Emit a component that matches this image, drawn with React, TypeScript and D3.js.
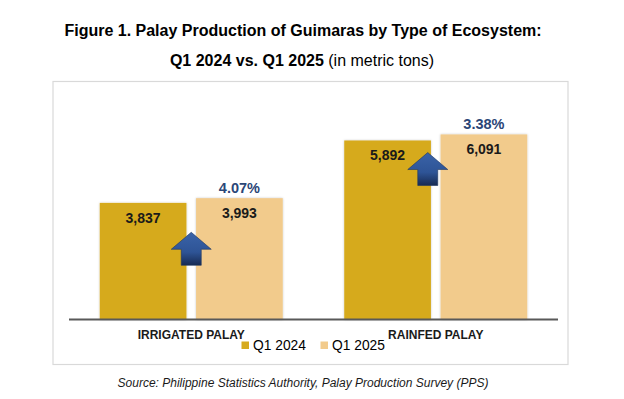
import React from "react";
import * as d3 from "d3";

const categories = ["IRRIGATED PALAY", "RAINFED PALAY"];
const seriesNames = ["Q1 2024", "Q1 2025"];
const q12024 = [3837, 5892];
const q12025 = [3993, 6091];
const growth = ["4.07%", "3.38%"];
// arrow annotation: tip position in data units and x offset from band centre
const arrowTipValue = [2870, 5495];
const arrowOffset = [0, -8];

const colors = ["#D6AA1E", "#F2CB8C"];

export default function App() {
  const W = 624, H = 399;
  const x0 = d3.scaleBand<string>().domain(categories).range([69, 558]).paddingInner(0).paddingOuter(0);
  const groupW = 183;
  const x1 = d3.scaleBand<string>().domain(seriesNames).range([0, groupW]).paddingInner(0.1).paddingOuter(0);
  const y = d3.scaleLinear().domain([0, 7000]).range([319.5, 106.8]);
  const fmt = d3.format(",");
  const series = [q12024, q12025];

  const arrowPath = (cx: number, tipY: number) => {
    const p = d3.path();
    p.moveTo(cx, tipY);
    p.lineTo(cx + 20, tipY + 17);
    p.lineTo(cx + 10, tipY + 17);
    p.lineTo(cx + 10, tipY + 33);
    p.lineTo(cx - 10, tipY + 33);
    p.lineTo(cx - 10, tipY + 17);
    p.lineTo(cx - 20, tipY + 17);
    p.closePath();
    return p.toString();
  };

  return (
    <svg width={W} height={H} style={{ position: "absolute", left: 0, top: 0, fontFamily: "'Liberation Sans', Arial, sans-serif" }}>
      <defs>
        <filter id="shadow" x="-20%" y="-20%" width="140%" height="140%">
          <feDropShadow dx="0" dy="0" stdDeviation="1.2" floodColor="#000" floodOpacity="0.22" />
        </filter>
        <linearGradient id="arrowGrad" x1="0" y1="0" x2="0" y2="1">
          <stop offset="0" stopColor="#3A63A8" />
          <stop offset="0.6" stopColor="#2E5496" />
          <stop offset="1" stopColor="#172A52" />
        </linearGradient>
      </defs>
      <rect x={0} y={0} width={W} height={H} fill="#fff" />
      <text x={303} y={36} textAnchor="middle" fontSize={16} fontWeight="bold" fill="#000">
        Figure 1. Palay Production of Guimaras by Type of Ecosystem:
      </text>
      <text x={302} y={66} textAnchor="middle" fontSize={16} fill="#000">
        <tspan fontWeight="bold">Q1 2024 vs. Q1 2025</tspan>
        <tspan> (in metric tons)</tspan>
      </text>
      <rect x={53} y={81.5} width={515} height={283} fill="#fff" stroke="#D9D9D9" strokeWidth={1.2} />

      {categories.map((c, i) => {
        const gx = (x0(c) as number) + (x0.bandwidth() - groupW) / 2;
        return (
          <g key={c} transform={`translate(${gx},0)`}>
            {series.map((s, j) => (
              <rect
                key={j}
                x={x1(seriesNames[j]) as number}
                y={y(s[i])}
                width={x1.bandwidth()}
                height={y(0) - y(s[i])}
                fill={colors[j]}
                filter="url(#shadow)"
              />
            ))}
          </g>
        );
      })}

      <line x1={69} x2={558} y1={y(0)} y2={y(0)} stroke="#595959" strokeWidth={2} />

      {categories.map((c, i) => {
        const gx = (x0(c) as number) + (x0.bandwidth() - groupW) / 2;
        const cx = (x0(c) as number) + x0.bandwidth() / 2;
        return (
          <g key={c + "lab"}>
            {series.map((s, j) => (
              <text
                key={j}
                x={gx + (x1(seriesNames[j]) as number) + x1.bandwidth() / 2}
                y={y(s[i]) + 20}
                textAnchor="middle"
                fontSize={14}
                fontWeight="bold"
                fill="#1a1a1a"
              >
                {fmt(s[i])}
              </text>
            ))}
            <text
              x={gx + (x1(seriesNames[1]) as number) + x1.bandwidth() / 2}
              y={y(q12025[i]) - 5}
              textAnchor="middle"
              fontSize={14.5}
              fontWeight="bold"
              fill="#2B4677"
            >
              {growth[i]}
            </text>
            <path d={arrowPath(cx + arrowOffset[i], y(arrowTipValue[i]))} fill="url(#arrowGrad)" stroke="#1F3560" strokeWidth={0.6} />
            <text x={cx} y={338.5} textAnchor="middle" fontSize={12} fontWeight="bold" fill="#1a1a1a">
              {c}
            </text>
          </g>
        );
      })}

      <rect x={228} y={339} width={164} height={17} fill="#fff" />
      {seriesNames.map((n, j) => (
        <g key={n} transform={`translate(${241.5 + j * 79},0)`}>
          <rect x={0} y={341.5} width={7.5} height={7.5} fill={colors[j]} />
          <text x={11.5} y={350} fontSize={13.8} fill="#000">
            {n}
          </text>
        </g>
      ))}

      <text x={303} y={387} textAnchor="middle" fontSize={12} fontStyle="italic" fill="#1a1a1a">
        Source: Philippine Statistics Authority, Palay Production Survey (PPS)
      </text>
    </svg>
  );
}
